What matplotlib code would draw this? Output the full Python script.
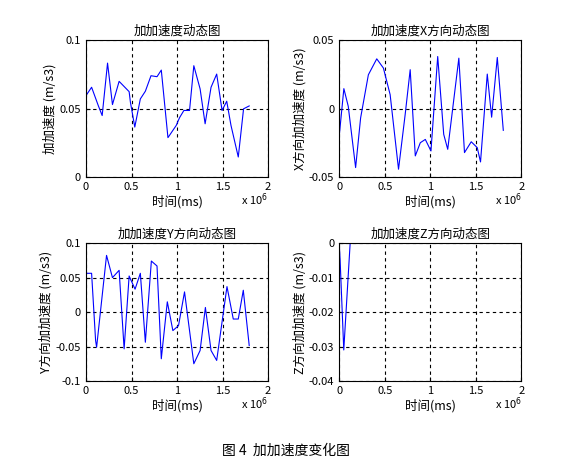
import matplotlib
matplotlib.use("Agg")
import matplotlib.pyplot as plt
import numpy as np

plt.rcParams['font.family'] = ['Noto Sans CJK SC', 'DejaVu Sans']
plt.rcParams['font.size'] = 8

# time in units of 1e6 ms
t1 = [0, 0.062, 0.135, 0.178, 0.237, 0.291, 0.364, 0.474, 0.488, 0.536, 0.597, 0.652, 0.714, 0.780, 0.827,
      0.900, 0.991, 1.027, 1.075, 1.137, 1.184, 1.253, 1.308, 1.373, 1.435, 1.494, 1.545, 1.592, 1.672, 1.730, 1.792]
a1 = [0.0594, 0.0655, 0.0522, 0.0449, 0.0831, 0.0529, 0.0698, 0.0623, 0.0546, 0.0365, 0.057, 0.0626, 0.0739,
      0.0732, 0.078, 0.0288, 0.0377, 0.0433, 0.0486, 0.0486, 0.0812, 0.0643, 0.0389, 0.0655, 0.0751, 0.0486,
      0.0553, 0.0377, 0.0147, 0.0498, 0.0519]
t2 = [0, 0.051, 0.099, 0.180, 0.235, 0.320, 0.412, 0.485, 0.559, 0.651, 0.724, 0.779, 0.835, 0.890, 0.945,
      1.007, 1.081, 1.147, 1.191, 1.313, 1.375, 1.449, 1.515, 1.551, 1.625, 1.673, 1.735, 1.801]
ax_ = [-0.020, 0.0145, 0.0017, -0.043, -0.0068, 0.0246, 0.0362, 0.0295, 0.0101, -0.0442, -0.0043, 0.0283,
       -0.0345, -0.0249, -0.0225, -0.0309, 0.0379, -0.0188, -0.0297, 0.0367, -0.0321, -0.0242, -0.0285,
       -0.0389, 0.0251, -0.0063, 0.0372, -0.0159]
t3 = [0, 0.062, 0.106, 0.117, 0.226, 0.291, 0.364, 0.419, 0.474, 0.539, 0.597, 0.652, 0.718, 0.780, 0.827,
      0.893, 0.954, 1.016, 1.082, 1.184, 1.253, 1.311, 1.373, 1.435, 1.548, 1.617, 1.672, 1.727, 1.792]
ay = [0.0563, 0.0563, -0.0414, -0.051, 0.0823, 0.05, 0.0606, -0.0534, 0.0524, 0.0332, 0.0563, -0.0438, 0.0741,
      0.0669, -0.0678, 0.0149, -0.0269, -0.0197, 0.0293, -0.075, -0.0558, 0.0067, -0.0558, -0.0702, 0.037,
      -0.0101, -0.0101, 0.0317, -0.0486]
t4 = [0, 0.01, 0.05, 0.12]
az = [0, -0.005, -0.031, 0]

panels = [
    (t1, a1, '加加速度动态图', '加加速度 (m/s3)', (0, 0.1), [0, 0.05, 0.1], ['0', '0.05', '0.1']),
    (t2, ax_, '加加速度X方向动态图', 'X方向加加速度 (m/s3)', (-0.05, 0.05), [-0.05, 0, 0.05], ['-0.05', '0', '0.05']),
    (t3, ay, '加加速度Y方向动态图', 'Y方向加加速度 (m/s3)', (-0.1, 0.1), [-0.1, -0.05, 0, 0.05, 0.1],
     ['-0.1', '-0.05', '0', '0.05', '0.1']),
    (t4, az, '加加速度Z方向动态图', 'Z方向加加速度 (m/s3)', (-0.04, 0), [-0.04, -0.03, -0.02, -0.01, 0],
     ['-0.04', '-0.03', '-0.02', '-0.01', '0']),
]
rects = [[0.150, 0.627, 0.318, 0.289], [0.592, 0.627, 0.318, 0.289],
         [0.150, 0.198, 0.318, 0.290], [0.592, 0.198, 0.318, 0.290]]

fig = plt.figure(figsize=(5.73, 4.75), dpi=100)
for (t, a, title, ylab, ylim, yt, ytl), r in zip(panels, rects):
    ax = fig.add_axes(r)
    ax.plot(np.array(t), a, color='blue', linewidth=0.8)
    ax.set_xlim(0, 2)
    ax.set_ylim(*ylim)
    ax.set_xticks([0, 0.5, 1, 1.5, 2])
    ax.set_xticklabels(['0', '0.5', '1', '1.5', '2'])
    ax.set_yticks(yt)
    ax.set_yticklabels(ytl)
    ax.tick_params(direction='in', length=3)
    ax.grid(True, color='black', linestyle=(0, (3, 3)), linewidth=0.8)
    ax.set_title(title, fontsize=9, pad=4)
    ax.set_xlabel('时间(ms)', fontsize=9, labelpad=2)
    ax.set_ylabel(ylab, fontsize=9, labelpad=2)
    ax.text(1.0, -0.2, r'x 10$^6$', transform=ax.transAxes, ha='right', fontsize=8)

fig.text(0.5, 0.042, '图 4  加加速度变化图', ha='center', fontsize=10)
fig.savefig('out.png', dpi=100)
